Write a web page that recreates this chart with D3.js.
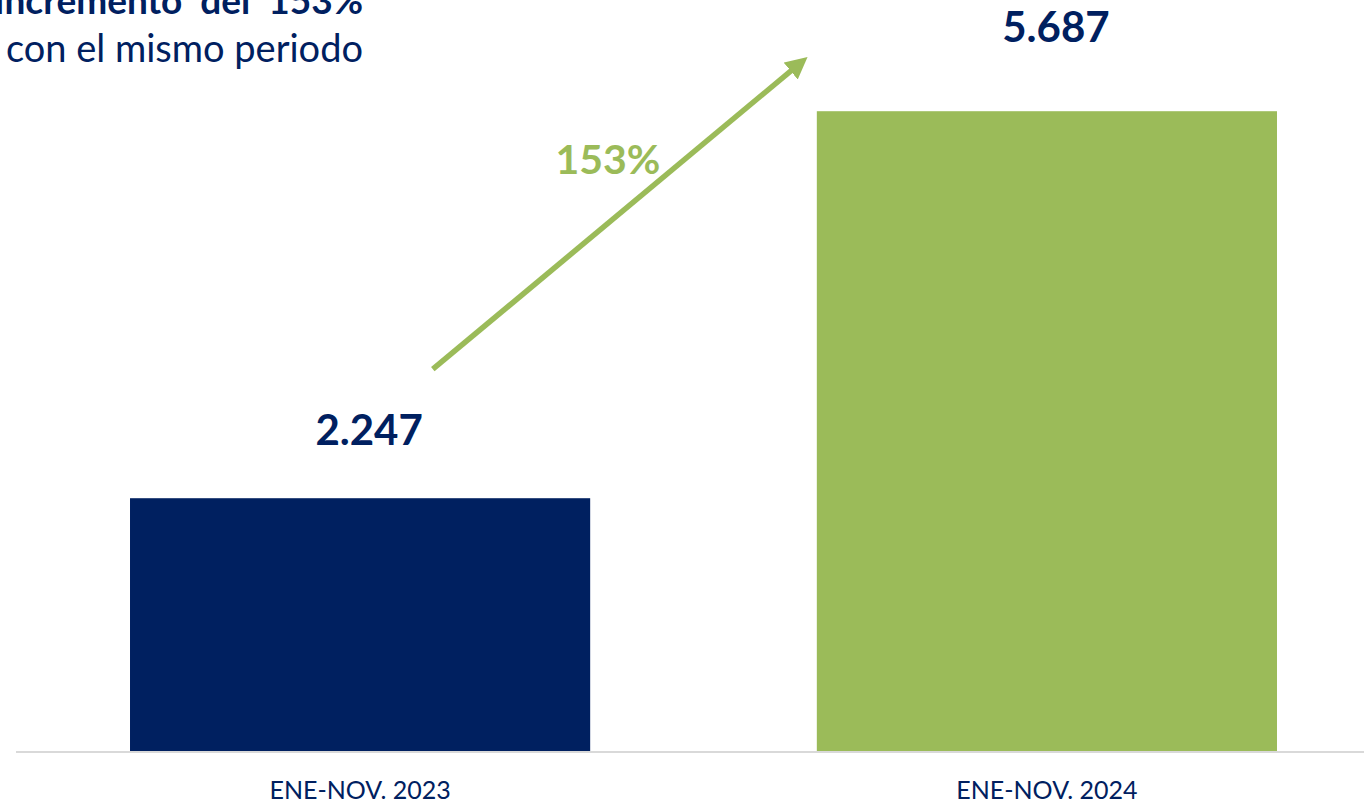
<!DOCTYPE html>
<html>
<head>
<meta charset="utf-8">
<script src="https://cdn.jsdelivr.net/npm/d3@7"></script>
<style>
  body { margin: 0; background: #fff; }
  svg { display: block; font-family: Lato, "Open Sans", sans-serif; }
</style>
</head>
<body>
<div id="chart"></div>
<script>
// datos del grafico
var periodos = ["ENE-NOV. 2023", "ENE-NOV. 2024"];
var valores = [2247, 5687];
var etiquetas = ["2.247", "5.687"];
var variacion = ["153%"];
var titulo = ["Incremento  del  153%", "con el mismo periodo"];

var width = 1364,
    height = 801,
    baseY = 751;

var navy = "#002060",
    green = "#9BBB59";

var svg = d3.select("#chart")
    .append("svg")
    .attr("width", width)
    .attr("height", height);

var x = d3.scaleBand()
    .domain(periodos)
    .range([16, 1391])
    .paddingInner(0.33)
    .paddingOuter(0.166);

var y = d3.scaleLinear()
    .domain([0, 6000])
    .range([baseY, 76]);

var color = d3.scaleOrdinal()
    .domain(periodos)
    .range([navy, green]);

// barras
svg.selectAll("rect.bar")
    .data(periodos)
    .enter().append("rect")
    .attr("class", "bar")
    .attr("x", function (d) { return x(d); })
    .attr("y", function (d, i) { return y(valores[i]); })
    .attr("width", x.bandwidth())
    .attr("height", function (d, i) { return y(0) - y(valores[i]); })
    .style("fill", function (d) { return color(d); });

// linea base
svg.append("line")
    .attr("x1", 16)
    .attr("x2", width)
    .attr("y1", y(0) + 1)
    .attr("y2", y(0) + 1)
    .style("stroke", "#d9d9d9")
    .style("stroke-width", 2);

// eje x
var xAxis = svg.append("g")
    .attr("transform", "translate(0," + (y(0) + 1) + ")")
    .call(d3.axisBottom(x).tickSize(0).tickPadding(0));
xAxis.select(".domain").remove();
xAxis.selectAll("text")
    .attr("y", 47)
    .attr("dy", 0)
    .style("font-family", "Lato, sans-serif")
    .style("font-size", "25px")
    .style("fill", navy);

// valores sobre las barras
svg.selectAll("text.valor")
    .data(periodos)
    .enter().append("text")
    .attr("class", "valor")
    .attr("x", function (d) { return x(d) + x.bandwidth() / 2 + 9; })
    .attr("y", function (d, i) { return y(valores[i]) - (i == 0 ? 53 : 69); })
    .attr("text-anchor", "middle")
    .style("font-size", "42px")
    .style("font-weight", "bold")
    .style("fill", navy)
    .text(function (d, i) { return etiquetas[i]; });

// flecha de variacion
svg.append("defs").append("marker")
    .attr("id", "punta")
    .attr("viewBox", "0 0 10 10")
    .attr("refX", 6)
    .attr("refY", 5)
    .attr("markerWidth", 4)
    .attr("markerHeight", 4)
    .attr("orient", "auto")
    .append("path")
    .attr("d", "M0,0L10,5L0,10z")
    .style("fill", green);

var x0 = x(periodos[0]) + x.bandwidth() * 0.658,
    y0 = y(valores[0]) - 129,
    x1 = x(periodos[1]) - 6,
    y1 = y(valores[1]) - 57;

svg.append("line")
    .attr("x1", x0)
    .attr("y1", y0)
    .attr("x2", x1 - 10)
    .attr("y2", y1 + 8.4)
    .style("stroke", green)
    .style("stroke-width", 5.5)
    .attr("marker-end", "url(#punta)");

svg.append("text")
    .attr("x", 608)
    .attr("y", 174)
    .attr("text-anchor", "middle")
    .style("font-size", "41px")
    .style("font-weight", "bold")
    .style("fill", green)
    .text(variacion[0]);

// titulo (recortado a la izquierda)
svg.append("text")
    .attr("x", 363)
    .attr("y", 14)
    .attr("text-anchor", "end")
    .style("font-size", "37px")
    .style("font-weight", "bold")
    .style("fill", navy)
    .style("white-space", "pre")
    .text(titulo[0]);

svg.append("text")
    .attr("x", 363)
    .attr("y", 62)
    .attr("text-anchor", "end")
    .style("font-size", "38px")
    .style("fill", navy)
    .text(titulo[1]);
</script>
</body>
</html>
